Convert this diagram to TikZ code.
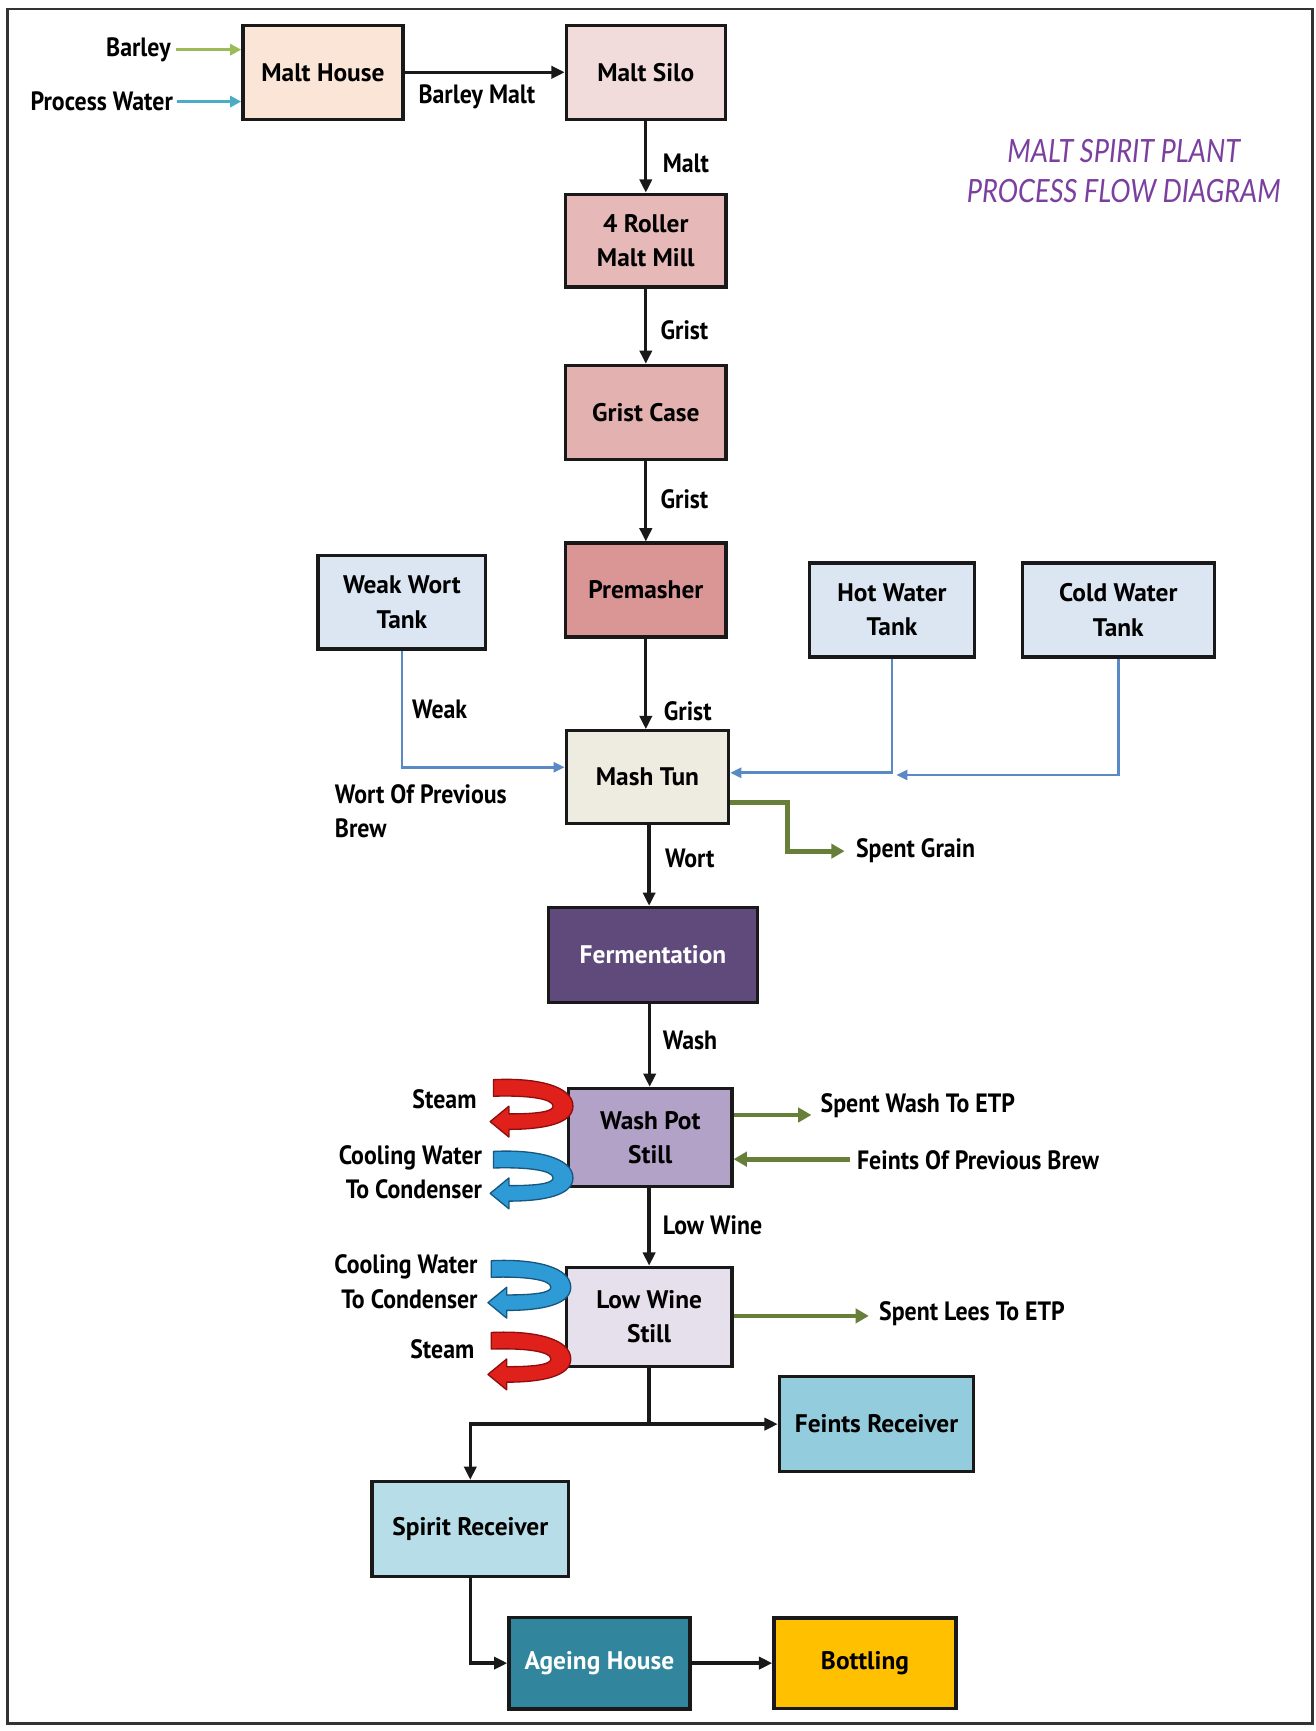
\documentclass[tikz,border=0pt]{standalone}
\usepackage{fontspec}
\setmainfont{PT Sans}
\newfontfamily\lblfont{PT Sans}[FakeStretch=0.9]
\newfontfamily\ttlfont{Lato}[FakeStretch=0.85]
\usetikzlibrary{arrows.meta,calc}
\definecolor{cMH}{HTML}{FBE5D6}
\definecolor{cMS}{HTML}{F2DCDB}
\definecolor{cMill}{HTML}{E6B9B8}
\definecolor{cGC}{HTML}{E3B1AF}
\definecolor{cPM}{HTML}{D99694}
\definecolor{cMT}{HTML}{EEECE1}
\definecolor{cTank}{HTML}{DCE6F2}
\definecolor{cFE}{HTML}{604A7B}
\definecolor{cWP}{HTML}{B3A2C7}
\definecolor{cLW}{HTML}{E6E0EC}
\definecolor{cFR}{HTML}{93CDDD}
\definecolor{cSR}{HTML}{B7DEE8}
\definecolor{cAH}{HTML}{31859C}
\definecolor{cBT}{HTML}{FFC000}
\definecolor{cWater}{HTML}{5A8AC6}
\definecolor{cOlive}{HTML}{687F3A}
\definecolor{cBarley}{HTML}{9BBB59}
\definecolor{cProc}{HTML}{4BACC6}
\definecolor{cTitle}{HTML}{7B3FA0}
\definecolor{cRed}{HTML}{E0201B}
\definecolor{cRedD}{HTML}{8E0E0E}
\definecolor{cBlue}{HTML}{2E9BD6}
\definecolor{cBlueD}{HTML}{17577F}
\newcommand{\uturn}[4]{%
\begin{scope}[shift={(#1,#2)}]
\filldraw[fill=#3, draw=#4, line width=0.6pt, line join=round]
 (-70,0) .. controls (-30,-2) and (2,6) .. (2,24)
 .. controls (2,40) and (-25,45) .. (-56,45)
 -- (-56,52) -- (-73,38) -- (-56,24) -- (-56,31)
 .. controls (-30,31) and (-16,29) .. (-16,24)
 .. controls (-16,17) and (-40,14) .. (-70,15) -- cycle;
\end{scope}}
\begin{document}
\begin{tikzpicture}[x=0.5pt,y=-0.5pt,
  box/.style={draw=black!90, line width=1.5pt, inner sep=0pt, align=center,
    font=\bfseries\fontsize{11.5}{15.5}\selectfont, text=black},
  lbl/.style={inner sep=0pt, align=left,
    font=\lblfont\bfseries\fontsize{12}{15.5}\selectfont, text=black},
  arr/.style={draw=black!90, line width=1.5pt, -{Triangle[length=6pt,width=5.5pt]}},
  water/.style={draw=cWater, line width=1.2pt, -{Triangle[length=5pt,width=4.5pt]}},
  olive/.style={draw=cOlive, line width=2.2pt, -{Triangle[length=6pt,width=6.5pt]}}]
\useasboundingbox (0,0) rectangle (1192,1568);
\fill[white] (0,0) rectangle (1192,1568);
\draw[line width=1.2pt, draw=black!80] (7,8) rectangle (1189,1561);

% title
\node[inner sep=0pt, align=center, text=cTitle,
  font=\ttlfont\itshape\fontsize{14.5}{18}\selectfont] (title) at (1018,155)
  {MALT SPIRIT PLANT\\PROCESS FLOW DIAGRAM};

% boxes
\node[box, fill=cMH, minimum width=72.5pt, minimum height=42.5pt] (mh) at (292.5,65.5) {Malt House};
\node[box, fill=cMS, minimum width=72pt, minimum height=42.5pt] (ms) at (585,65.5) {Malt Silo};
\node[box, fill=cMill, minimum width=72.5pt, minimum height=42pt] (mill) at (585,218) {4 Roller\\Malt Mill};
\node[box, fill=cGC, minimum width=72.5pt, minimum height=42.5pt] (gc) at (585,373.5) {Grist Case};
\node[box, fill=cPM, minimum width=72.5pt, minimum height=42.5pt] (pm) at (585,534.5) {Premasher};
\node[box, fill=cMT, minimum width=73.5pt, minimum height=42pt] (mt) at (586.5,704) {Mash Tun};
\node[box, fill=cTank, minimum width=76pt, minimum height=42.5pt] (ww) at (364,545.5) {Weak Wort\\Tank};
\node[box, fill=cTank, minimum width=75pt, minimum height=42.5pt] (hw) at (808,552.5) {Hot Water\\Tank};
\node[box, fill=cTank, minimum width=87pt, minimum height=42.5pt] (cw) at (1013,552.5) {Cold Water\\Tank};
\node[box, fill=cFE, text=white, minimum width=94.5pt, minimum height=43pt] (fe) at (591.5,865) {Fermentation};
\node[box, fill=cWP, minimum width=74pt, minimum height=44.5pt] (wp) at (589,1030.5) {Wash Pot\\Still};
\node[box, fill=cLW, minimum width=75pt, minimum height=45pt] (lw) at (588,1193) {Low Wine\\Still};
\node[box, fill=cFR, minimum width=88pt, minimum height=43pt] (fr) at (794,1290) {Feints Receiver};
\node[box, fill=cSR, minimum width=89pt, minimum height=43pt] (sr) at (426,1385) {Spirit Receiver};
\node[box, fill=cAH, text=white, minimum width=82pt, minimum height=41.5pt] (ah) at (543,1506.5) {Ageing House};
\node[box, fill=cBT, minimum width=82.5pt, minimum height=41pt] (bt) at (783.5,1506.5) {Bottling};

% labels
\node[lbl, anchor=east] (lbarley) at (155,45) {Barley};
\node[lbl, anchor=east] (lproc) at (157,92) {Process Water};
\node[lbl] (lbm) at (432,88) {Barley Malt};
\node[lbl, anchor=west] (lmalt) at (600,148) {Malt};
\node[lbl, anchor=west] (lg1) at (598,299) {Grist};
\node[lbl, anchor=west] (lg2) at (598,452) {Grist};
\node[lbl, anchor=west] (lg3) at (601,644) {Grist};
\node[lbl, anchor=west] (lweak) at (373,643) {Weak};
\node[lbl, anchor=west] (lwopb) at (303,735) {Wort Of Previous\\Brew};
\node[lbl, anchor=west] (lwort) at (602,778) {Wort};
\node[lbl, anchor=west] (lsg) at (775,771) {Spent Grain};
\node[lbl, anchor=west] (lwash) at (600,942) {Wash};
\node[lbl, anchor=east] (lst1) at (432,996) {Steam};
\node[lbl, anchor=west] (lswe) at (743,1002) {Spent Wash To ETP};
\node[lbl, anchor=east, align=right] (lcw1) at (437,1062) {Cooling Water\\To Condenser};
\node[lbl, anchor=west] (lfpb) at (776,1051) {Feints Of Previous Brew};
\node[lbl, anchor=west] (llw) at (600,1110) {Low Wine};
\node[lbl, anchor=east, align=right] (lcw2) at (433,1161) {Cooling Water\\To Condenser};
\node[lbl, anchor=east] (lst2) at (430,1222) {Steam};
\node[lbl, anchor=west] (lsle) at (796,1190) {Spent Lees To ETP};

% coordinates
\coordinate (wwK) at (364,695);
\coordinate (hwK) at (808,700);
\coordinate (cwA) at (812,702);
\coordinate (sgK) at (713,727);
\coordinate (sgE) at (765,771);
\coordinate (swE) at (735,1010);
\coordinate (fS) at (770,1050);
\coordinate (slE) at (787,1192);
\coordinate (jn) at (588,1290);

% main connectors
\draw[draw=cBarley, line width=1.5pt, -{Triangle[length=5pt,width=5pt]}] (lbarley.east) ++(4,0) coordinate (bS) -- (bS -| mh.west);
\draw[draw=cProc, line width=1.5pt, -{Triangle[length=5pt,width=5pt]}] (lproc.east) ++(3,0) coordinate (pS) -- (pS -| mh.west);
\draw[arr] (mh.east) -- (ms.west);
\draw[arr] (ms.south) -- (mill.north);
\draw[arr] (mill.south) -- (gc.north);
\draw[arr] (gc.south) -- (pm.north);
\draw[arr] (pm.south) -- (pm.south |- mt.north);
\draw[arr] (mt.south) ++(1.5,0) coordinate (mtS) -- (mtS |- fe.north);
\draw[arr] (fe.south) ++(-3,0) coordinate (feS) -- (feS |- wp.north);
\draw[arr] (wp.south) ++(-1,0) coordinate (wpS) -- (wpS |- lw.north);
\draw[line width=1.5pt, draw=black!90] (lw.south) -- (jn);
\draw[arr] (jn) -- (fr.west);
\draw[arr] (jn) -| (sr.north);
\draw[arr] (sr.south) |- (ah.west);
\draw[arr] (ah.east) -- (bt.west);

% water lines
\draw[water] (ww.south) -- (wwK) -- (wwK -| mt.west);
\draw[water] (cw.south) |- (cwA);
\draw[water] (hw.south) -- (hwK) -- (hwK -| mt.east);

% olive lines
\draw[olive] (sgK -| mt.east) -- (sgK) |- (sgE);
\draw[olive] (swE -| wp.east) -- (swE);
\draw[olive] (fS) -- (fS -| wp.east);
\draw[olive] (slE -| lw.east) -- (slE);

% u-turn arrows
\uturn{517}{978}{cRed}{cRedD}
\uturn{517}{1043}{cBlue}{cBlueD}
\uturn{515}{1142}{cBlue}{cBlueD}
\uturn{515}{1207}{cRed}{cRedD}
\end{tikzpicture}
\end{document}
